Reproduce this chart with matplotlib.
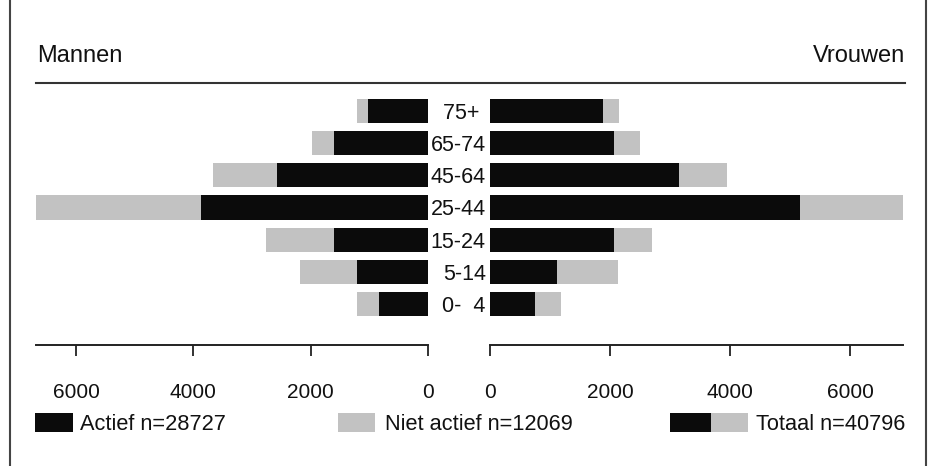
import matplotlib

matplotlib.use("Agg")
import matplotlib.pyplot as plt
from matplotlib.lines import Line2D
from matplotlib.patches import Rectangle
import numpy as np

plt.rcParams["font.family"] = ["Liberation Sans", "DejaVu Sans"]

# age groups, bottom to top
age_groups = ["0-  4", "5-14", "15-24", "25-44", "45-64", "65-74", "75+ "]

# Mannen (men)
men_actief = [832, 1218, 1605, 3865, 2567, 1605, 1020]
men_totaal = [1218, 2186, 2755, 6712, 3667, 1986, 1218]

# Vrouwen (women)
women_actief = [751, 1124, 2070, 5164, 3144, 2070, 1881]
women_totaal = [1180, 2132, 2699, 6890, 3952, 2504, 2142]

ticks = [0, 2000, 4000, 6000]
legend_labels = ["Actief n=28727", "Niet actief n=12069", "Totaal n=40796"]

BLACK = "#0b0b0b"
GREY = "#c2c2c2"
W, H = 930, 466


def fx(px):
    return px / W


def fy(py):
    return 1 - py / H


fig = plt.figure(figsize=(9.3, 4.66), dpi=100)
fig.patch.set_facecolor("white")

ax_l = fig.add_axes([fx(36), fy(345), fx(428 - 36), (345 - 90) / H])
ax_r = fig.add_axes([fx(490), fy(345), fx(903.3 - 490), (345 - 90) / H])

y = np.arange(len(age_groups))
for ax, act, tot in ((ax_l, men_actief, men_totaal), (ax_r, women_actief, women_totaal)):
    act = np.asarray(act)
    niet = np.asarray(tot) - act
    ax.barh(y, act, height=0.75, color=BLACK, edgecolor="none")
    ax.barh(y, niet, left=act, height=0.75, color=GREY, edgecolor="none")
    ax.set_ylim(-1.283, 6.66)
    for side in ("top", "left", "right"):
        ax.spines[side].set_visible(False)
    ax.spines["bottom"].set_linewidth(1.4)
    ax.spines["bottom"].set_color("#222222")
    ax.set_xticks(ticks)
    ax.tick_params(axis="x", direction="out", length=8, width=1.3,
                   colors="#222222", labelsize=15, pad=19, labelcolor="#111111")

ax_l.set_xlim(6683, 0)
ax_r.set_xlim(0, 6888)
ax_l.set_yticks([])
ax_r.set_yticks(y)
ax_r.set_yticklabels(age_groups, fontsize=15.5, color="#111111")
ax_r.tick_params(axis="y", length=0, pad=3)

# headings
fig.text(fx(37), fy(56), "Mannen", fontsize=17, ha="left", va="center", color="#111111")
fig.text(fx(905), fy(56), "Vrouwen", fontsize=17, ha="right", va="center", color="#111111")

# rule under the headings and page frame
fig.add_artist(Line2D([fx(36), fx(905)], [fy(83), fy(83)], color="#333333", lw=1.5))
fig.add_artist(Line2D([fx(10), fx(10)], [0, 1], color="#444444", lw=1.5))
fig.add_artist(Line2D([fx(926), fx(926)], [0, 1], color="#444444", lw=1.5))

# legend
ly0, ly1 = 413, 432
fig.add_artist(Rectangle((fx(35), fy(ly1)), fx(37.7), (ly1 - ly0) / H, color=BLACK, lw=0))
fig.text(fx(80), fy(424), legend_labels[0], fontsize=15.7, va="center", color="#111111")
fig.add_artist(Rectangle((fx(338), fy(ly1)), fx(37), (ly1 - ly0) / H, color=GREY, lw=0))
fig.text(fx(385), fy(424), legend_labels[1], fontsize=15.7, va="center", color="#111111")
fig.add_artist(Rectangle((fx(670), fy(ly1)), fx(40.7), (ly1 - ly0) / H, color=BLACK, lw=0))
fig.add_artist(Rectangle((fx(710.7), fy(ly1)), fx(37.6), (ly1 - ly0) / H, color=GREY, lw=0))
fig.text(fx(756), fy(424), legend_labels[2], fontsize=15.7, va="center", color="#111111")

fig.savefig("out.png", dpi=100, facecolor="white")
